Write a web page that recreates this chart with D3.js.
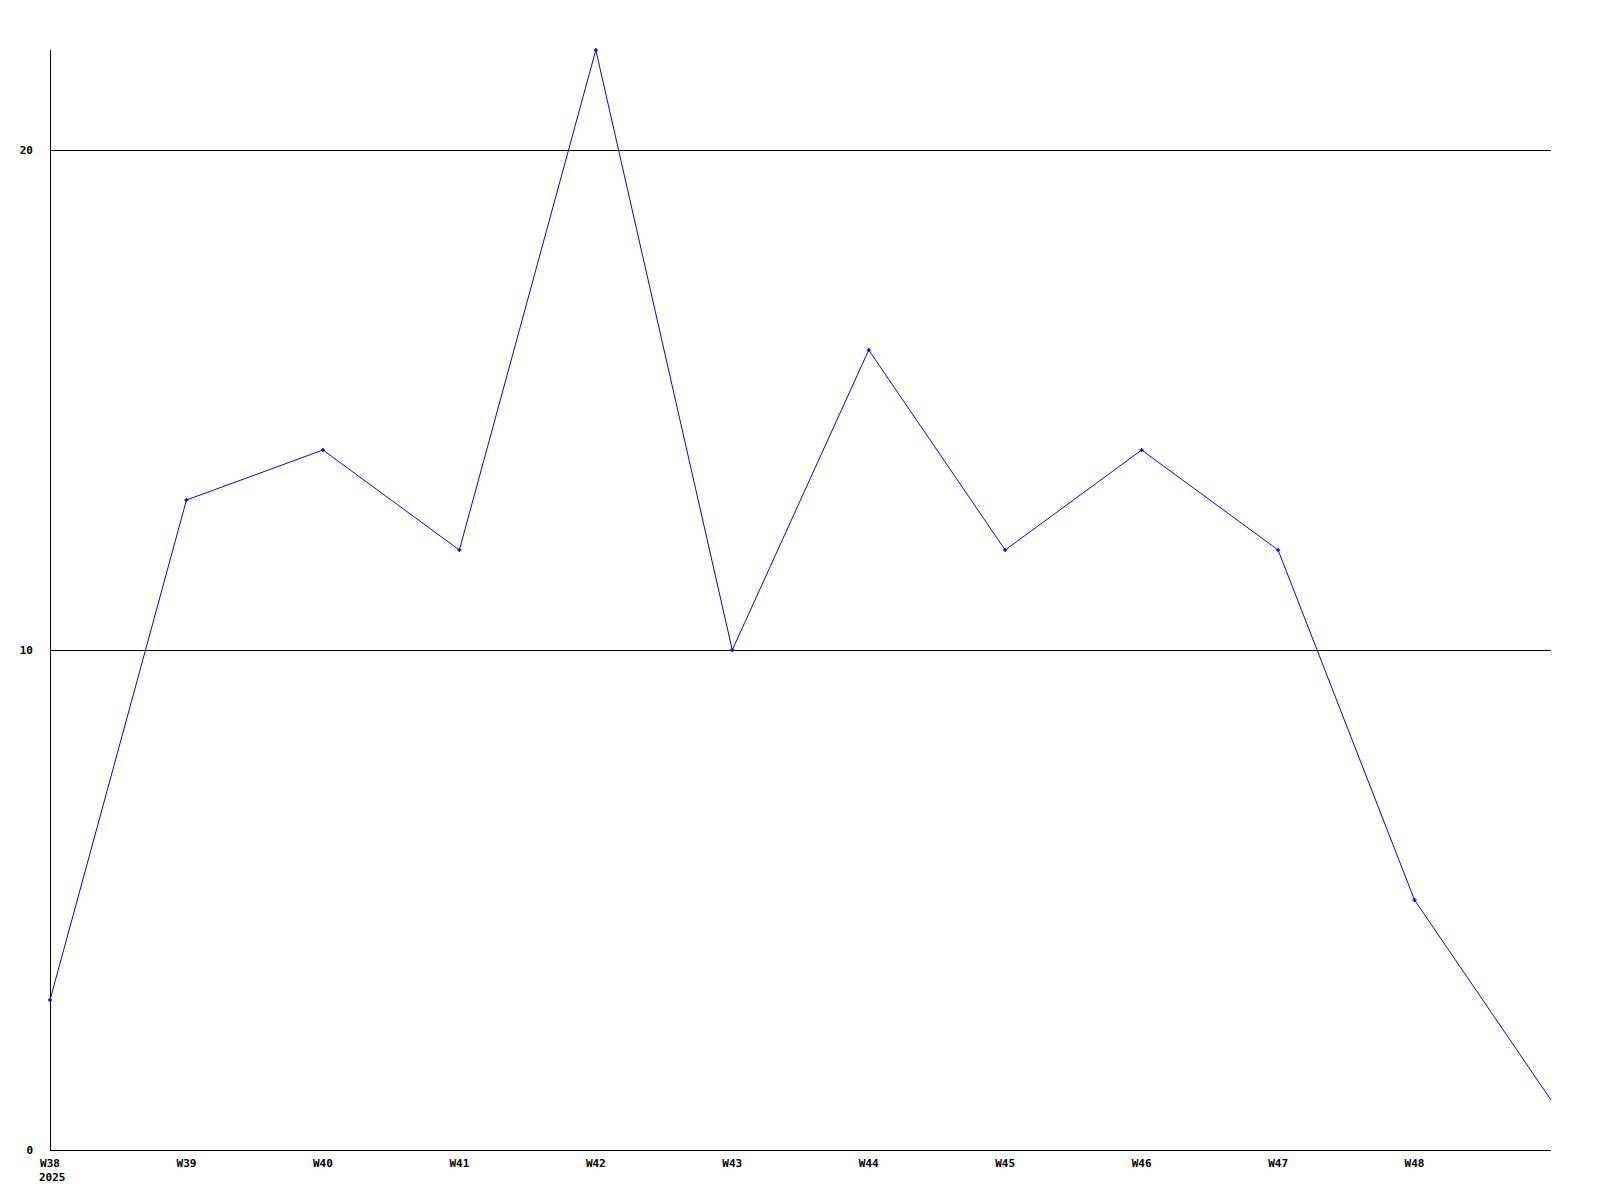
<!DOCTYPE html>
<html><head><meta charset="utf-8">
<script src="https://cdn.jsdelivr.net/npm/d3@7"></script>
<style>
html,body{margin:0;padding:0;background:#fff;}
text{font-family:"DejaVu Sans Mono",monospace;font-weight:bold;font-size:11px;fill:#000;}
</style></head>
<body>
<svg id="chart" width="1600" height="1200"></svg>
<script>
const weeks = ["W38","W39","W40","W41","W42","W43","W44","W45","W46","W47","W48","W49"];
const values = [3,13,14,12,22,10,16,12,14,12,5,1];
const tickLabels = ["W38","W39","W40","W41","W42","W43","W44","W45","W46","W47","W48"];
const yTicks = [0,10,20];
const yearLabel = "2025";

(function(){
const svg = d3.select("#chart");
const mLeft = 50, mRight = 1551, mTop = 50, mBottom = 1150;
const x = d3.scalePoint().domain(weeks).range([mLeft, mRight]);
const y = d3.scaleLinear().domain([0, 22]).range([mBottom, mTop]);

// gridlines
svg.append("g").selectAll("line").data(yTicks.filter(d => d > 0)).join("line")
  .attr("x1", mLeft).attr("x2", mRight)
  .attr("y1", d => Math.round(y(d)) + 0.5).attr("y2", d => Math.round(y(d)) + 0.5)
  .attr("stroke", "#000").attr("stroke-width", 1).attr("shape-rendering", "crispEdges");

// axes lines
svg.append("line").attr("x1", mLeft + 0.5).attr("x2", mLeft + 0.5).attr("y1", mTop).attr("y2", mBottom)
  .attr("stroke", "#000").attr("shape-rendering", "crispEdges");
svg.append("line").attr("x1", mLeft).attr("x2", mRight).attr("y1", mBottom + 0.5).attr("y2", mBottom + 0.5)
  .attr("stroke", "#000").attr("shape-rendering", "crispEdges");

// y labels
svg.append("g").selectAll("text").data(yTicks).join("text")
  .attr("x", 33).attr("y", d => y(d) + 4).attr("text-anchor", "end").text(d => d);

// x labels
svg.append("g").selectAll("text").data(tickLabels).join("text")
  .attr("x", d => x(d)).attr("y", mBottom + 17).attr("text-anchor", "middle").text(d => d);
svg.append("text").attr("x", x(weeks[0]) - 11).attr("y", mBottom + 31).text(yearLabel);

// line
const line = d3.line().x((d, i) => x(weeks[i])).y(d => y(d));
svg.append("path").datum(values).attr("d", line)
  .attr("fill", "none").attr("stroke", "#0000ff").attr("stroke-width", 1);

// markers
const pts = svg.append("g").selectAll("g").data(values.slice(0, values.length - 1)).join("g")
  .attr("transform", (d, i) => `translate(${x(weeks[i])},${y(d)})`);
pts.append("path").attr("d", "M-2,0H2M0,-2V2").attr("stroke", "#0000ff").attr("stroke-width", 1.4);
})();
</script>
</body></html>
